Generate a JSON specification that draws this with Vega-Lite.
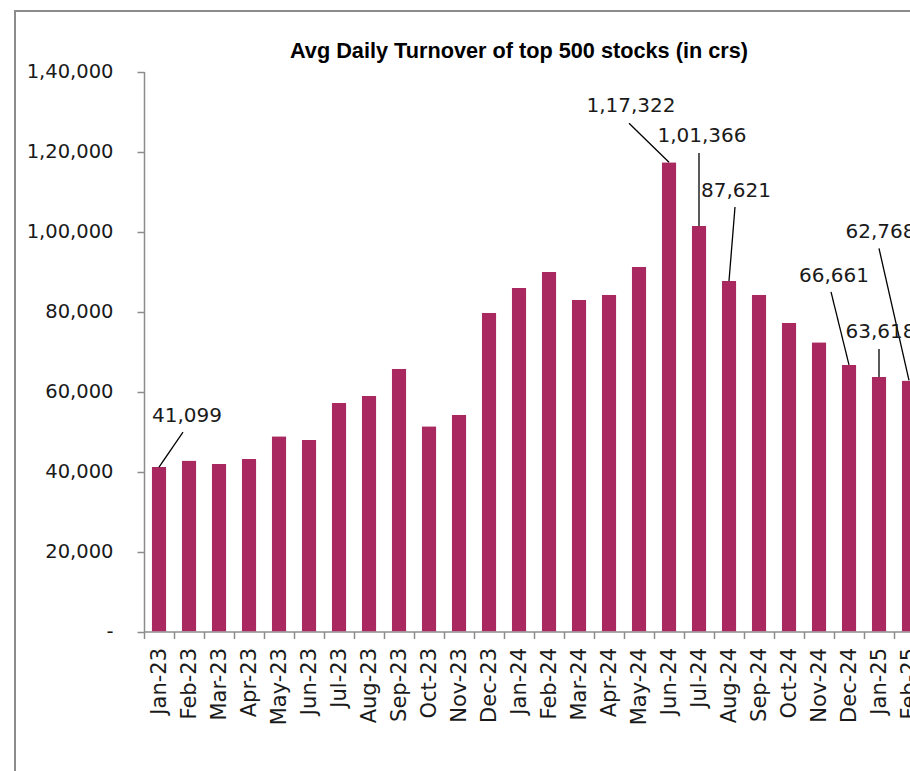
{
  "$schema": "https://vega.github.io/schema/vega-lite/v6.json",
  "width": 895,
  "height": 760,
  "autosize": {"type": "none"},
  "padding": {"left": 15, "top": 11, "right": 0, "bottom": 0},
  "background": "white",
  "title": {
    "text": "Avg Daily Turnover of top 500 stocks (in crs)",
    "font": "Liberation Sans",
    "fontSize": 21.7,
    "fontWeight": "bold",
    "color": "#000000",
    "anchor": "middle",
    "frame": "group",
    "dx": 56.5,
    "offset": -69,
    "baseline": "alphabetic"
  },
  "data": {
    "values": [
      {"month": "Jan-23", "value": 41099, "label": "41,099"},
      {"month": "Feb-23", "value": 42750},
      {"month": "Mar-23", "value": 41900},
      {"month": "Apr-23", "value": 43100},
      {"month": "May-23", "value": 48800},
      {"month": "Jun-23", "value": 47900},
      {"month": "Jul-23", "value": 57100},
      {"month": "Aug-23", "value": 58900},
      {"month": "Sep-23", "value": 65700},
      {"month": "Oct-23", "value": 51300},
      {"month": "Nov-23", "value": 54200},
      {"month": "Dec-23", "value": 79700},
      {"month": "Jan-24", "value": 85900},
      {"month": "Feb-24", "value": 89900},
      {"month": "Mar-24", "value": 82900},
      {"month": "Apr-24", "value": 84200},
      {"month": "May-24", "value": 91200},
      {"month": "Jun-24", "value": 117322, "label": "1,17,322"},
      {"month": "Jul-24", "value": 101366, "label": "1,01,366"},
      {"month": "Aug-24", "value": 87621, "label": "87,621"},
      {"month": "Sep-24", "value": 84200},
      {"month": "Oct-24", "value": 77200},
      {"month": "Nov-24", "value": 72300},
      {"month": "Dec-24", "value": 66661, "label": "66,661"},
      {"month": "Jan-25", "value": 63618, "label": "63,618"},
      {"month": "Feb-25", "value": 62768, "label": "62,768"}
    ]
  },
  "encoding": {
    "x": {
      "field": "month",
      "type": "nominal",
      "sort": null,
      "scale": {
        "domain": ["Jan-23","Feb-23","Mar-23","Apr-23","May-23","Jun-23","Jul-23","Aug-23","Sep-23","Oct-23","Nov-23","Dec-23","Jan-24","Feb-24","Mar-24","Apr-24","May-24","Jun-24","Jul-24","Aug-24","Sep-24","Oct-24","Nov-24","Dec-24","Jan-25","Feb-25"],
        "range": [129, 909],
        "paddingInner": 0,
        "paddingOuter": 0
      },
      "axis": {
        "orient": "bottom",
        "offset": -139.5,
        "tickBand": "extent",
        "tickSize": 7,
        "labelPadding": 9,
        "labelAngle": -90,
        "labelAlign": "right",
        "labelBaseline": "middle",
        "labelFontSize": 21,
        "labelOverlap": false,
        "title": null
      }
    },
    "y": {
      "field": "value",
      "type": "quantitative",
      "scale": {"domain": [0, 140000], "range": [620.5, 60.5], "nice": false, "zero": true},
      "axis": {
        "orient": "left",
        "offset": -129,
        "values": [0, 20000, 40000, 60000, 80000, 100000, 120000, 140000],
        "tickSize": 7,
        "labelPadding": 24,
        "labelFontSize": 19.5,
        "labelFlush": false,
        "labelOverlap": false,
        "labelExpr": "datum.value == 0 ? '-\u00a0\u00a0' : (datum.value >= 100000 ? (floor(datum.value / 100000) + ',' + slice(format(100000 + datum.value % 100000, ','), 1)) : format(datum.value, ','))",
        "title": null
      }
    }
  },
  "layer": [
    {
      "mark": {"type": "bar", "color": "#A9285F", "width": {"band": 0.49}, "cornerRadiusTopLeft": 1, "cornerRadiusTopRight": 1}
    },
    {
      "transform": [{"filter": "datum.month == 'Jan-23'"}],
      "mark": {"type": "rule", "color": "#000000", "strokeWidth": 1.3, "x2Offset": 24, "y2Offset": -35},
      "encoding": {"x2": {"field": "month"}, "y2": {"field": "value"}}
    },
    {
      "transform": [{"filter": "datum.month == 'Jun-24'"}],
      "mark": {"type": "rule", "color": "#000000", "strokeWidth": 1.3, "x2Offset": -40, "y2Offset": -39},
      "encoding": {"x2": {"field": "month"}, "y2": {"field": "value"}}
    },
    {
      "transform": [{"filter": "datum.month == 'Jul-24'"}],
      "mark": {"type": "rule", "color": "#000000", "strokeWidth": 1.3, "x2Offset": 0, "y2Offset": -73},
      "encoding": {"x2": {"field": "month"}, "y2": {"field": "value"}}
    },
    {
      "transform": [{"filter": "datum.month == 'Aug-24'"}],
      "mark": {"type": "rule", "color": "#000000", "strokeWidth": 1.3, "x2Offset": 6, "y2Offset": -74},
      "encoding": {"x2": {"field": "month"}, "y2": {"field": "value"}}
    },
    {
      "transform": [{"filter": "datum.month == 'Dec-24'"}],
      "mark": {"type": "rule", "color": "#000000", "strokeWidth": 1.3, "x2Offset": -18, "y2Offset": -73},
      "encoding": {"x2": {"field": "month"}, "y2": {"field": "value"}}
    },
    {
      "transform": [{"filter": "datum.month == 'Jan-25'"}],
      "mark": {"type": "rule", "color": "#000000", "strokeWidth": 1.3, "x2Offset": 0, "y2Offset": -28},
      "encoding": {"x2": {"field": "month"}, "y2": {"field": "value"}}
    },
    {
      "transform": [{"filter": "datum.month == 'Feb-25'"}],
      "mark": {"type": "rule", "color": "#000000", "strokeWidth": 1.3, "x2Offset": -30, "y2Offset": -132},
      "encoding": {"x2": {"field": "month"}, "y2": {"field": "value"}}
    },
    {
      "transform": [{"filter": "datum.month == 'Jan-23'"}],
      "mark": {"type": "text", "font": "DejaVu Sans", "fontSize": 20, "color": "#1a1a1a", "align": "center", "baseline": "alphabetic", "dx": 28, "dy": -45},
      "encoding": {"text": {"field": "label"}}
    },
    {
      "transform": [{"filter": "datum.month == 'Jun-24'"}],
      "mark": {"type": "text", "font": "DejaVu Sans", "fontSize": 20, "color": "#1a1a1a", "align": "center", "baseline": "alphabetic", "dx": -38, "dy": -50},
      "encoding": {"text": {"field": "label"}}
    },
    {
      "transform": [{"filter": "datum.month == 'Jul-24'"}],
      "mark": {"type": "text", "font": "DejaVu Sans", "fontSize": 20, "color": "#1a1a1a", "align": "center", "baseline": "alphabetic", "dx": 3, "dy": -84},
      "encoding": {"text": {"field": "label"}}
    },
    {
      "transform": [{"filter": "datum.month == 'Aug-24'"}],
      "mark": {"type": "text", "font": "DejaVu Sans", "fontSize": 20, "color": "#1a1a1a", "align": "center", "baseline": "alphabetic", "dx": 7, "dy": -84},
      "encoding": {"text": {"field": "label"}}
    },
    {
      "transform": [{"filter": "datum.month == 'Dec-24'"}],
      "mark": {"type": "text", "font": "DejaVu Sans", "fontSize": 20, "color": "#1a1a1a", "align": "center", "baseline": "alphabetic", "dx": -15, "dy": -83},
      "encoding": {"text": {"field": "label"}}
    },
    {
      "transform": [{"filter": "datum.month == 'Jan-25'"}],
      "mark": {"type": "text", "font": "DejaVu Sans", "fontSize": 20, "color": "#1a1a1a", "align": "center", "baseline": "alphabetic", "dx": 1.5, "dy": -39},
      "encoding": {"text": {"field": "label"}}
    },
    {
      "transform": [{"filter": "datum.month == 'Feb-25'"}],
      "mark": {"type": "text", "font": "DejaVu Sans", "fontSize": 20, "color": "#1a1a1a", "align": "center", "baseline": "alphabetic", "dx": -28.5, "dy": -142},
      "encoding": {"text": {"field": "label"}}
    }
  ],
  "config": {
    "view": {"stroke": "#8c8c8c", "strokeWidth": 2, "strokeDash": [895, 1655, 760, 10], "fill": "white"},
    "axis": {
      "domainColor": "#8c8c8c",
      "domainWidth": 1.5,
      "tickColor": "#8c8c8c",
      "tickWidth": 1.5,
      "grid": false,
      "labelColor": "#1a1a1a",
      "labelFont": "DejaVu Sans"
    }
  }
}
